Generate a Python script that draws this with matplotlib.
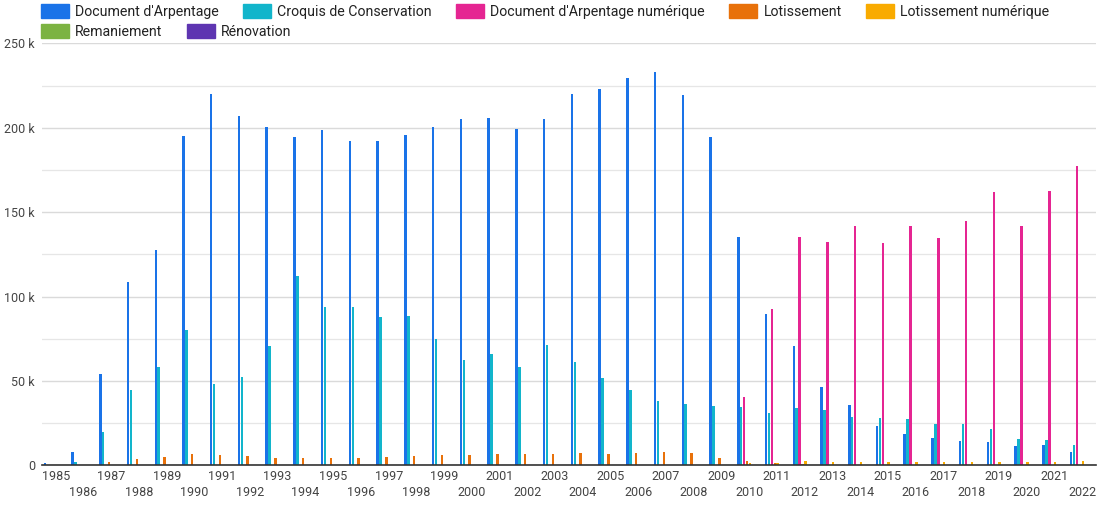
import matplotlib
matplotlib.use("Agg")
import matplotlib.pyplot as plt
import numpy as np
from matplotlib.patches import Rectangle
from matplotlib.ticker import FuncFormatter, MultipleLocator

years = list(range(1985, 2023))

doc_arpentage = [1.2, 8, 54, 108.5, 127.5, 195.3, 220, 207, 200.2, 194.7,
                 198.8, 192, 192, 195.9, 200.2, 205.3, 206, 199.2, 205.3, 220,
                 222.7, 229.5, 232.8, 219.4, 194.7, 135.3, 89.9, 70.9, 46.2, 35.6,
                 23.1, 18.7, 16, 14.4, 13.8, 11.4, 12, 7.7]
croquis = [0, 1.8, 19.6, 44.6, 58.1, 80.4, 48.4, 52.4, 70.7, 112.4,
           93.9, 93.9, 87.6, 88.3, 74.9, 62.4, 65.8, 58.5, 71.3, 61.3,
           51.8, 44.7, 38.3, 36.2, 35.2, 34.4, 31, 34, 32.8, 28.8,
           28.2, 27.3, 24.5, 24.5, 21.5, 15.4, 14.8, 12]
doc_arpentage_num = [0]*25 + [40.7, 92.5, 135.4, 132.4, 141.5, 131.4, 141.5,
                              134.8, 144.9, 162.1, 141.5, 162.7, 177.5]
lotissement = [0, 0.3, 2.1, 3.7, 4.9, 6.7, 6.1, 5.5, 4.3, 4.3,
               4.3, 4.3, 4.9, 5.5, 6.1, 6.1, 6.7, 6.7, 6.7, 7.3,
               6.7, 7.3, 7.9, 7.3, 4.3, 2.7, 1.5, 0.8, 0, 0,
               0, 0, 0, 0, 0, 0, 0, 0]
lotissement_num = [0]*25 + [1.2, 1.5, 2.7, 2.1, 2.1, 2.1, 2.1, 2.1, 2.1, 2.1, 2.1, 2.1, 2.7]
remaniement = [0]*38
renovation = [0]*38

series_names = ["Document d'Arpentage", "Croquis de Conservation",
                "Document d'Arpentage numérique", "Lotissement",
                "Lotissement numérique", "Remaniement", "Rénovation"]
series_values = [doc_arpentage, croquis, doc_arpentage_num, lotissement,
                 lotissement_num, remaniement, renovation]
colors = ["#1A73E8", "#12B5CB", "#E52592", "#E8710A", "#F9AB00", "#7CB342", "#5E35B1"]

plt.rcParams['font.family'] = ['Roboto', 'DejaVu Sans']

W, H = 1110, 513
fig = plt.figure(figsize=(W / 100, H / 100), dpi=100)
ax = fig.add_axes([41.9 / W, 1 - 465.3 / H, (1096 - 41.9) / W, (465.3 - 43.3) / H])

x = np.arange(len(years))
step = 0.105
width = 0.09
shift = -0.08
for i, (vals, c) in enumerate(zip(series_values, colors)):
    ax.bar(x + (i - 3) * step + shift, np.array(vals) * 1000, width=width, color=c,
           zorder=3, linewidth=0)

ax.set_xlim(-0.5, len(years) - 0.5)
ax.set_ylim(0, 250000)
ax.yaxis.set_major_locator(MultipleLocator(50000))
ax.yaxis.set_minor_locator(MultipleLocator(25000))
ax.yaxis.set_major_formatter(FuncFormatter(lambda v, p: "0" if v == 0 else f"{int(v/1000)} k"))
ax.grid(axis='y', which='major', color='#dadada', linewidth=1.0, zorder=0)
ax.grid(axis='y', which='minor', color='#e6e6e6', linewidth=0.9, zorder=0)
for s in ['top', 'right', 'left']:
    ax.spines[s].set_visible(False)
ax.spines['bottom'].set_color('#333333')
ax.spines['bottom'].set_linewidth(1.2)
ax.spines['bottom'].set_zorder(4)
ax.tick_params(axis='y', which='both', length=0, labelsize=9, labelcolor='#444444', pad=5)
ax.tick_params(axis='x', length=0, labelsize=9, labelcolor='#444444')
ax.set_xticks(x)
ax.set_xticklabels([str(y) if i % 2 == 0 else "\n" + str(y) for i, y in enumerate(years)],
                   linespacing=1.25)

# legend, laid out sequentially like the reference
renderer = fig.canvas.get_renderer()
rows = [[0, 1, 2, 3, 4], [5, 6]]
for r, idxs in enumerate(rows):
    px = 41
    top = 4.3 + r * 20
    for k in idxs:
        fig.patches.append(Rectangle((px / W, 1 - (top + 14) / H), 28 / W, 14 / H,
                                     transform=fig.transFigure, color=colors[k], figure=fig))
        t = fig.text((px + 34) / W, 1 - (top + 7.5) / H, series_names[k], fontsize=10.2,
                     color='#222222', va='center', ha='left')
        bb = t.get_window_extent(renderer=renderer)
        px = bb.x1 + 24.5

fig.savefig("out.png", dpi=100, facecolor='white')
